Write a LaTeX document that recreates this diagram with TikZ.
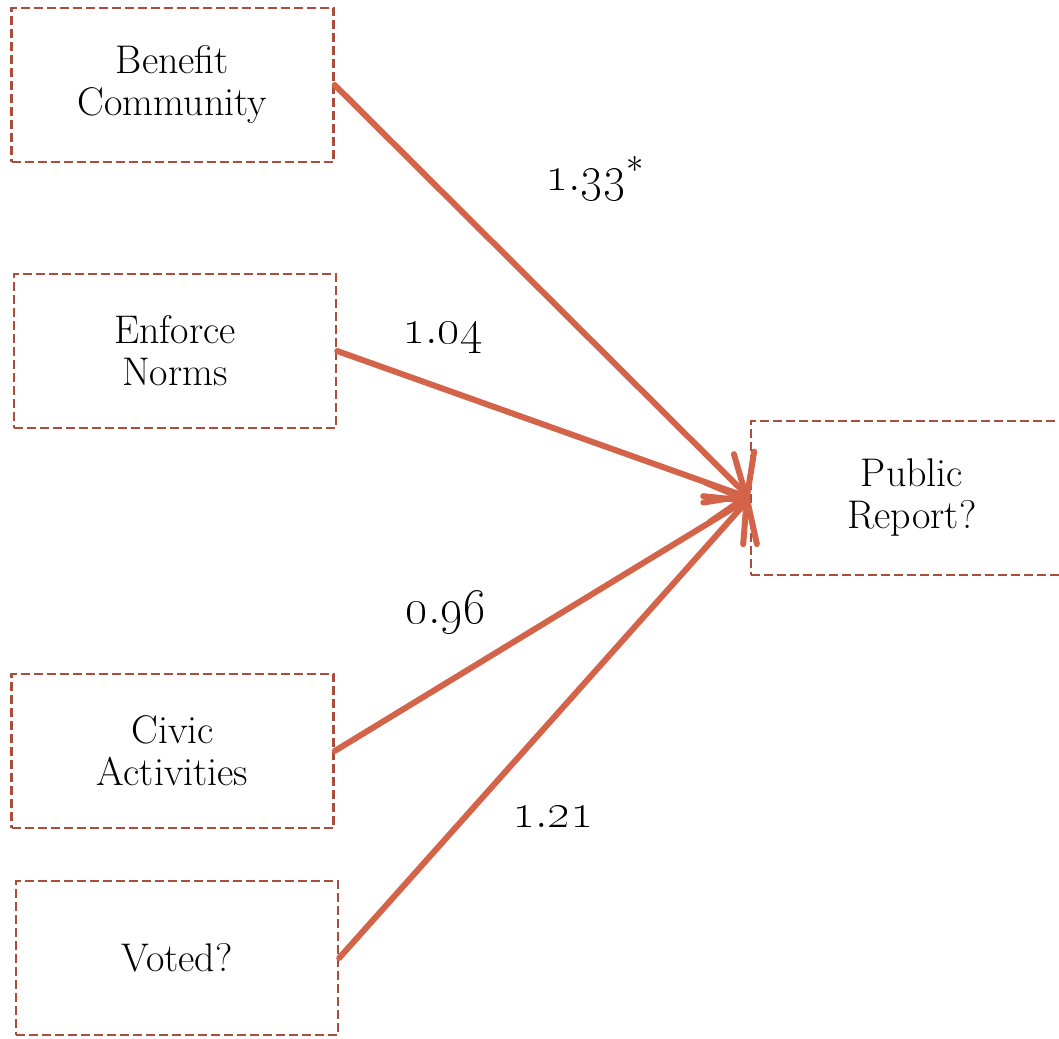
\documentclass[tikz,border=0pt]{standalone}
\usepackage{tikz}
\usetikzlibrary{arrows.meta, positioning}
\definecolor{linkcol}{HTML}{D3644A}
\definecolor{boxcol}{HTML}{A84E3B}

\begin{document}
\begin{tikzpicture}[x=0.5pt, y=-0.5pt, font=\fontsize{20}{21}\selectfont,
    factor/.style={draw=boxcol, line width=1.2pt, dash pattern=on 4.5pt off 2pt,
      minimum width=161pt, minimum height=77pt, align=center, inner sep=0pt},
    link/.style={linkcol, line width=3pt, line cap=round,
      -{Straight Barb[length=13pt, width=36pt, line cap=round]}},
    coef/.style={font=\fontsize{25}{28}\selectfont}]
  \useasboundingbox (0,0) rectangle (1059,1038);

  % predictors
  \node[factor] (bc) at (172.5,85) {Benefit\\Community};
  \node[factor] (en) at (175,351) {Enforce\\Norms};
  \node[factor] (ca) at (172.5,751) {Civic\\Activities};
  \node[factor] (vo) at (177,958) {Voted?};

  % outcome
  \node[factor] (pr) at (912,498) {Public\\Report?};

  % paths
  \draw[link] (bc.east) -- (pr.west);
  \draw[link] (en.east) -- (pr.west);
  \draw[link] (ca.east) -- (pr.west);
  \draw[link] (vo.east) -- (pr.west);

  % coefficients
  \node[coef] (w1) at (595,178) {\oldstylenums{1}.\oldstylenums{33}$^{*}$};
  \node[coef] (w2) at (443,338) {\oldstylenums{1}.\oldstylenums{04}};
  \node[coef] (w3) at (446,612) {\oldstylenums{0}.\oldstylenums{96}};
  \node[coef] (w4) at (553,817) {\oldstylenums{1}.\oldstylenums{21}};
\end{tikzpicture}
\end{document}
